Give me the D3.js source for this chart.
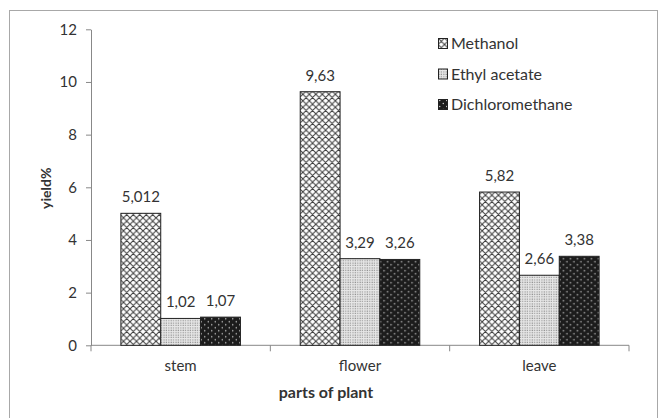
<!DOCTYPE html>
<html>
<head>
<meta charset="utf-8">
<script src="https://cdn.jsdelivr.net/npm/d3@7"></script>
<style>
  body { margin: 0; background: #fff; }
  text { font-family: Lato, "Open Sans", sans-serif; fill: #333; }
</style>
</head>
<body>
<div id="chart"></div>
<script>
var svgWidth = 663;
var svgHeight = 418;

// data
var categories = ["stem", "flower", "leave"];
var seriesNames = ["Methanol", "Ethyl acetate", "Dichloromethane"];
var methanol = [5.012, 9.63, 5.82];
var ethylAcetate = [1.02, 3.29, 2.66];
var dichloromethane = [1.07, 3.26, 3.38];
var valueLabels = [["5,012", "9,63", "5,82"], ["1,02", "3,29", "2,66"], ["1,07", "3,26", "3,38"]];
var yTicks = [0, 2, 4, 6, 8, 10, 12];

var seriesValues = [methanol, ethylAcetate, dichloromethane];
var patternIds = ["pat-cross", "pat-fine", "pat-dark"];

var margin = { top: 29.3, right: 34, bottom: 72.7, left: 91 };
var width = svgWidth - margin.left - margin.right;
var height = svgHeight - margin.top - margin.bottom;

var svg = d3.select("#chart")
  .append("svg")
  .attr("width", svgWidth)
  .attr("height", svgHeight);

// patterns
var defs = svg.append("defs");

var cross = defs.append("pattern")
  .attr("id", "pat-cross")
  .attr("patternUnits", "userSpaceOnUse")
  .attr("width", 6.5).attr("height", 6.5);
cross.append("rect").attr("width", 6.5).attr("height", 6.5).attr("fill", "#fff");
cross.append("path")
  .attr("d", "M0,0L6.5,6.5M6.5,0L0,6.5M-1,5.5L1,7.5M5.5,-1L7.5,1")
  .attr("stroke", "#3a3a3a").attr("stroke-width", 1);

var fine = defs.append("pattern")
  .attr("id", "pat-fine")
  .attr("patternUnits", "userSpaceOnUse")
  .attr("width", 2.4).attr("height", 2.4);
fine.append("rect").attr("width", 2.4).attr("height", 2.4).attr("fill", "#e6e6e6");
fine.append("rect").attr("x", 0.5).attr("y", 0.5).attr("width", 1).attr("height", 1).attr("fill", "#777");

var dark = defs.append("pattern")
  .attr("id", "pat-dark")
  .attr("patternUnits", "userSpaceOnUse")
  .attr("width", 7).attr("height", 6);
dark.append("rect").attr("width", 7).attr("height", 6).attr("fill", "#1c1c1c");
dark.append("circle").attr("cx", 1.75).attr("cy", 1.5).attr("r", 0.7).attr("fill", "#ddd");
dark.append("circle").attr("cx", 5.25).attr("cy", 4.5).attr("r", 0.7).attr("fill", "#ddd");

// outer frame
svg.append("rect")
  .attr("x", 9.5).attr("y", 10.5)
  .attr("width", 648).attr("height", 430)
  .attr("fill", "none")
  .attr("stroke", "#a8a8a8");

var chartGroup = svg.append("g")
  .attr("transform", `translate(${margin.left}, ${margin.top})`);

// scales
var x0 = d3.scaleBand()
  .domain(categories)
  .range([0, width])
  .padding(0);

var bw = x0.bandwidth();
var x1 = d3.scaleBand()
  .domain(seriesNames)
  .range([bw / 4.5 * 0.75, bw - bw / 4.5 * 0.75]);

var y = d3.scaleLinear()
  .domain([0, 12])
  .range([height, 0]);

// y axis
var leftAxis = d3.axisLeft(y).tickValues(yTicks).tickSize(5).tickPadding(9).tickSizeOuter(0);
var yAxisG = chartGroup.append("g").call(leftAxis);
yAxisG.select(".domain").attr("stroke", "#888");
yAxisG.selectAll(".tick line").attr("stroke", "#888");
yAxisG.selectAll("text").style("font-size", "15px").attr("fill", "#333");

// x axis
var bottomAxis = d3.axisBottom(x0).tickSize(0).tickPadding(15);
var xAxisG = chartGroup.append("g")
  .attr("transform", `translate(0, ${height})`)
  .call(bottomAxis);
xAxisG.select(".domain").attr("stroke", "#888").attr("d", `M0,0H${width}`);
xAxisG.selectAll("text").style("font-size", "15px").attr("fill", "#333");

var edges = categories.map(c => x0(c)).concat([width]);
chartGroup.append("g").selectAll("line")
  .data(edges)
  .enter()
  .append("line")
  .attr("x1", d => d).attr("x2", d => d)
  .attr("y1", height).attr("y2", height + 6)
  .attr("stroke", "#888");

// bars
var groups = chartGroup.selectAll(".group")
  .data(categories)
  .enter()
  .append("g")
  .attr("class", "group")
  .attr("transform", d => `translate(${x0(d)}, 0)`);

var cells = groups.selectAll("rect")
  .data((c, i) => seriesNames.map((s, j) => ({ s: s, j: j, v: seriesValues[j][i], label: valueLabels[j][i] })))
  .enter();

cells.append("rect")
  .attr("x", d => x1(d.s))
  .attr("y", d => y(d.v))
  .attr("width", x1.bandwidth())
  .attr("height", d => height - y(d.v))
  .attr("fill", d => `url(#${patternIds[d.j]})`)
  .attr("stroke", "#222")
  .attr("stroke-width", 1);

cells.append("text")
  .attr("x", d => x1(d.s) + x1.bandwidth() / 2)
  .attr("y", d => y(d.v) - 11)
  .attr("text-anchor", "middle")
  .style("font-size", "15px")
  .text(d => d.label);

// legend
var legend = svg.append("g")
  .attr("transform", "translate(438, 38)");
var items = legend.selectAll("g")
  .data(seriesNames)
  .enter()
  .append("g")
  .attr("transform", (d, i) => `translate(0, ${i * 30.5})`);
items.append("rect")
  .attr("x", 0.5).attr("y", 0.5)
  .attr("width", 9).attr("height", 10)
  .attr("fill", (d, i) => `url(#${patternIds[i]})`)
  .attr("stroke", "#222");
items.append("text")
  .attr("x", 13)
  .attr("y", 11)
  .style("font-size", "16px")
  .text(d => d);

// axis titles
chartGroup.append("text")
  .attr("transform", "rotate(-90)")
  .attr("x", 0 - 159)
  .attr("y", 0 - margin.left + 51)
  .attr("text-anchor", "middle")
  .style("font-size", "14px")
  .style("font-weight", "bold")
  .text("yield%");

chartGroup.append("text")
  .attr("x", 235)
  .attr("y", height + 53)
  .attr("text-anchor", "middle")
  .style("font-size", "16px")
  .style("font-weight", "bold")
  .text("parts of plant");
</script>
</body>
</html>
